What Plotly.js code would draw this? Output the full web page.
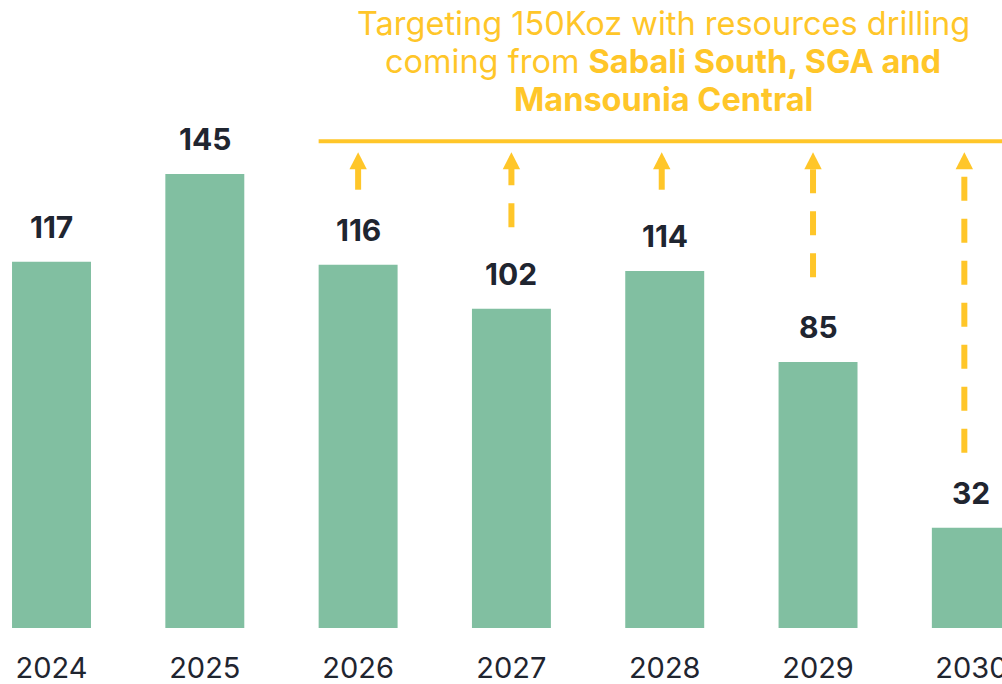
<!DOCTYPE html>
<html><head><meta charset="utf-8">
<script src="https://cdn.plot.ly/plotly-3.0.1.min.js"></script>
<style>html,body{margin:0;padding:0;background:#fff;}#chart{width:1002px;height:684px;}</style>
</head><body><div id="chart"></div>
<script>
// ---- data ----
const years = ['2024','2025','2026','2027','2028','2029','2030'];
const production = [117, 145, 116, 102, 114, 85, 32];
const arrowYears = ['2026','2027','2028','2029','2030'];
const arrowBase = [140, 128, 140, 112, 56];
const arrowDashed = [false, true, false, true, true];
const arrowShiftPx = [0, 0, -3, -5, -7];
const targetLevel = 155.5;
const arrowTip = 152;
const titleLines = ['Targeting 150Koz with resources drilling', 'coming from <b>Sabali South, SGA and</b>', '<b>Mansounia Central</b>'];

// ---- styles ----
const barColor = '#81BFA1';
const gold = '#FFC629';
const dark = '#1F2530';
const barWidth = 0.515;
const font = 'Inter, "Noto Sans", sans-serif';
const titleLineCenters = [23, 61.5, 99.5];

const trace = {
  type: 'bar', x: years, y: production,
  marker: {color: barColor}, width: barWidth,
  hoverinfo: 'skip'
};

const annotations = years.map((yr, i) => ({
  x: i, y: production[i], xref: 'x', yref: 'y',
  text: '<b>' + production[i] + '</b>', showarrow: false,
  yanchor: 'middle', yshift: 35,
  font: {family: font, size: 30, color: dark}
}));
titleLines.forEach((t, i) => {
  annotations.push({
    xref: 'paper', yref: 'paper', x: 0.6617, y: 1, xanchor: 'center', yanchor: 'middle',
    yshift: -titleLineCenters[i], showarrow: false, text: t,
    font: {family: font, size: 32.5, color: gold}
  });
});

const shapes = [{
  type: 'line', xref: 'x', yref: 'y',
  x0: years.indexOf('2026') - barWidth / 2, x1: 6.3,
  y0: targetLevel, y1: targetLevel,
  line: {color: gold, width: 4}
}];
arrowYears.forEach((yr, i) => {
  const idx = years.indexOf(yr);
  const s = arrowShiftPx[i];
  shapes.push({
    type: 'line', xref: 'x', yref: 'y', xsizemode: 'pixel', xanchor: idx,
    x0: s, x1: s, y0: arrowBase[i], y1: arrowTip - 2,
    line: {color: gold, width: 6, dash: arrowDashed[i] ? '24px,18px' : 'solid'}
  });
  shapes.push({
    type: 'path', xref: 'x', yref: 'y', xsizemode: 'pixel', ysizemode: 'pixel',
    xanchor: idx, yanchor: arrowTip,
    path: 'M' + (s - 8.7) + ',-17 L' + (s + 8.7) + ',-17 L' + s + ',0 Z',
    fillcolor: gold, line: {width: 0}
  });
});

const layout = {
  width: 1002, height: 684,
  margin: {l: 0, r: 0, t: 0, b: 56},
  paper_bgcolor: '#ffffff', plot_bgcolor: '#ffffff',
  showlegend: false,
  xaxis: {
    type: 'category', range: [-0.336, 6.2], showgrid: false, zeroline: false,
    showline: false, ticks: '', ticklabelstandoff: 20,
    tickfont: {family: font, size: 29, color: dark}, fixedrange: true
  },
  yaxis: {
    range: [0, 200.6], visible: false, showgrid: false, zeroline: false, fixedrange: true
  },
  shapes: shapes,
  annotations: annotations
};

Plotly.newPlot('chart', [trace], layout, {displayModeBar: false, staticPlot: true});
</script>
</body></html>
